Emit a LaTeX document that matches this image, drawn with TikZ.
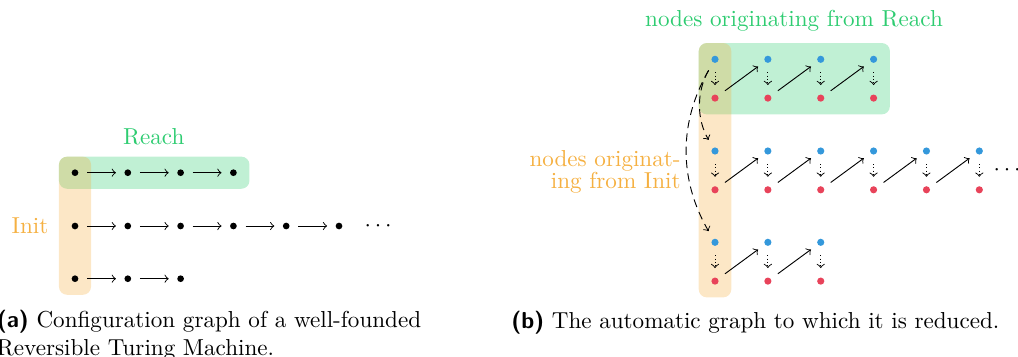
\documentclass[tikz,border=0pt]{standalone}
\usetikzlibrary{fit,backgrounds}
\definecolor{cgreen}{HTML}{2ECC71}
\definecolor{corange}{HTML}{F5B041}
\definecolor{cblue}{HTML}{3498DB}
\definecolor{cred}{HTML}{E8435A}
\begin{document}
\begin{tikzpicture}[x=0.4329pt,y=-0.4329pt,
  blackdot/.style={circle,fill=black,inner sep=0pt,minimum size=2.9pt},
  bluedot/.style={circle,fill=cblue,inner sep=0pt,minimum size=3.1pt},
  reddot/.style={circle,fill=cred,inner sep=0pt,minimum size=3.1pt},
  arr/.style={->,shorten >=3.5pt,shorten <=3.6pt},
  dotarr/.style={->,densely dotted,shorten >=3.9pt,shorten <=3.9pt},
  dasharr/.style={->,dash pattern=on 3.5pt off 2.3pt,shorten >=3.8pt,shorten <=3.8pt},
  reachbox/.style={rectangle,fill=cgreen,fill opacity=0.3,rounded corners=3.5pt,inner sep=5.3pt},
  initbox/.style={rectangle,fill=corange,fill opacity=0.3,rounded corners=3.5pt,inner sep=5.3pt},
  lbl/.style={inner sep=0pt}]
\useasboundingbox (0,0) rectangle (1018,356);
% ---------------- (a)
\foreach \r/\y/\n in {1/172.7/3,2/226/5,3/278.7/2}{
  \foreach \i in {0,...,\n}{
    \node[blackdot] (a\r\i) at ({75+52.8*\i},\y) {};
  }
  \foreach \i in {1,...,\n}{
    \pgfmathtruncatemacro\k{\i-1}
    \draw[arr] (a\r\k) -- (a\r\i);
  }
}
\begin{scope}[on background layer]
  \node[reachbox,fit=(a10)(a13)] (reachA) {};
  \node[initbox,fit=(a10)(a30)] (initA) {};
\end{scope}
\node[lbl,text=cgreen,anchor=base] (reachAl) at (153.7,144) {Reach};
\node[lbl,text=corange,anchor=base] (initAl) at (30,233.3) {Init};
\node[lbl,anchor=base] (dotsA) at (378,231.8) {$\cdots$};
% ---------------- (b)
\foreach \g/\y/\n in {1/59.3/3,2/151/5,3/242.3/2}{
  \foreach \i in {0,...,\n}{
    \node[bluedot] (b\g\i) at ({715+52.86*\i},\y) {};
    \node[reddot] (r\g\i) at ({715+52.86*\i},\y+38.8) {};
    \draw[dotarr] (b\g\i) -- (r\g\i);
  }
  \foreach \i in {1,...,\n}{
    \pgfmathtruncatemacro\k{\i-1}
    \draw[arr] (r\g\k) -- (b\g\i);
  }
}
\draw[dasharr] (b10) to[bend right=30] (b20);
\draw[dasharr] (b10) to[bend right=30] (b30);
\begin{scope}[on background layer]
  \node[reachbox,fit=(b10)(r13)] (reachB) {};
  \node[initbox,fit=(b10)(r30)] (initB) {};
\end{scope}
\node[lbl,text=cgreen,anchor=base] (reachBl) at (794,26) {nodes originating from Reach};
\node[lbl,text=corange,align=right,anchor=base east,font=\fontsize{10pt}{9.74pt}\selectfont] (initBl) at (681,188.7) {nodes originat-\\ing from Init};
\node[lbl,anchor=base] (dotsB) at (1007,175.1) {$\cdots$};
% ---------------- captions
\node[lbl,anchor=base west,align=left] (capA) at (-3.5,355.7) {\textsf{\bfseries (a)} Configuration graph of a well-founded\\Reversible Turing Machine.};
\node[lbl,anchor=base west] (capB) at (511,328) {\textsf{\bfseries (b)} The automatic graph to which it is reduced.};
\end{tikzpicture}
\end{document}
